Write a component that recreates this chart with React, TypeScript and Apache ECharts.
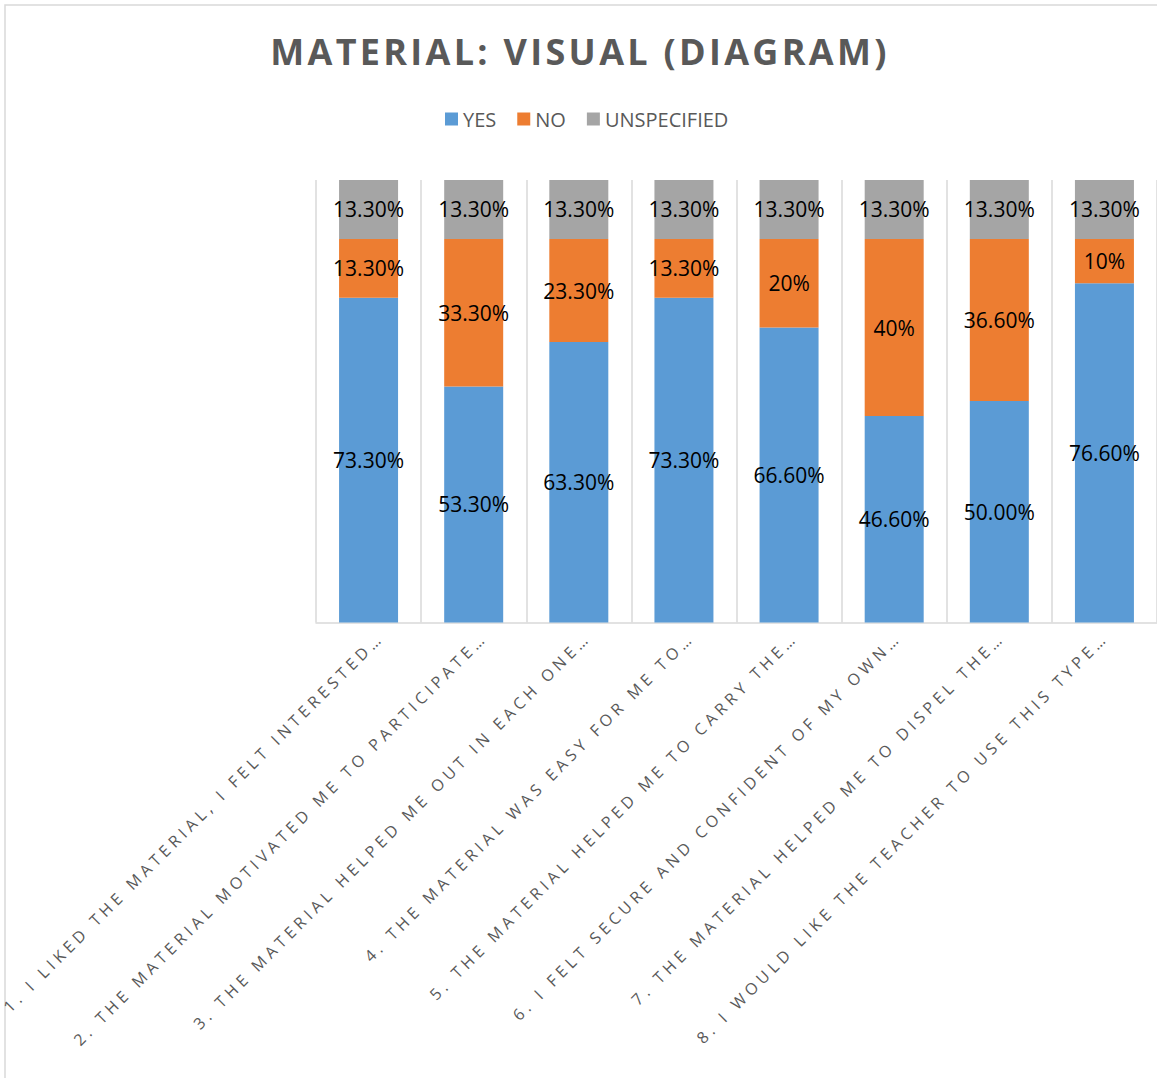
import React, { useEffect, useRef } from "react";
import * as echarts from "echarts";

const titleText = "MATERIAL: VISUAL (DIAGRAM)";
const categories = [
  "1. I LIKED THE MATERIAL, I FELT INTERESTED…",
  "2. THE MATERIAL MOTIVATED ME TO PARTICIPATE…",
  "3. THE MATERIAL HELPED ME OUT IN EACH ONE…",
  "4. THE MATERIAL WAS EASY FOR ME TO…",
  "5. THE MATERIAL HELPED ME TO CARRY THE…",
  "6. I FELT SECURE AND CONFIDENT OF MY OWN…",
  "7. THE MATERIAL HELPED ME TO DISPEL THE…",
  "8. I WOULD LIKE THE TEACHER TO USE THIS TYPE…",
];
const seriesNames = ["YES", "NO", "UNSPECIFIED"];
const yesValues = [73.3, 53.3, 63.3, 73.3, 66.6, 46.6, 50.0, 76.6];
const noValues = [13.3, 33.3, 23.3, 13.3, 20, 40, 36.6, 10];
const unspecifiedValues = [13.3, 13.3, 13.3, 13.3, 13.3, 13.3, 13.3, 13.3];
const yesLabels = ["73.30%", "53.30%", "63.30%", "73.30%", "66.60%", "46.60%", "50.00%", "76.60%"];
const noLabels = ["13.30%", "33.30%", "23.30%", "13.30%", "20%", "40%", "36.60%", "10%"];
const unspecifiedLabels = ["13.30%", "13.30%", "13.30%", "13.30%", "13.30%", "13.30%", "13.30%", "13.30%"];
const colors = ["#5b9bd5", "#ed7d31", "#a5a5a5"];

export default function App() {
  const ref = useRef<HTMLDivElement>(null);
  useEffect(() => {
    if (!ref.current) return;
    const chart = echarts.init(ref.current, undefined, { renderer: "svg" });
    const valueSets = [yesValues, noValues, unspecifiedValues];
    const labelSets = [yesLabels, noLabels, unspecifiedLabels];
    const gridBox = { top: 180, width: 843, height: 442.5 };
    chart.setOption({
      animation: false,
      color: colors,
      graphic: [
        {
          type: "rect",
          shape: { x: 5, y: 5, width: 1175, height: 1095 },
          style: { fill: "none", stroke: "#d9d9d9", lineWidth: 1.5 },
          silent: true,
        },
        {
          type: "text",
          x: 580,
          y: 51,
          style: {
            text: titleText,
            fontFamily: "'Open Sans'",
            fontWeight: "bold",
            fontSize: 36,
            fill: "#595959",
            textAlign: "center",
            textVerticalAlign: "middle",
          },
        },
      ],
      legend: {
        data: seriesNames,
        left: 440,
        top: 104,
        icon: "rect",
        itemWidth: 13,
        itemHeight: 13,
        itemGap: 21,
        textStyle: { fontFamily: "'Open Sans'", fontSize: 20, color: "#595959" },
      },
      grid: [
        { left: 316, ...gridBox },
        { left: 329, ...gridBox },
      ],
      xAxis: [
        {
          type: "category",
          gridIndex: 0,
          data: categories,
          axisLine: { show: true, lineStyle: { color: "#d9d9d9", width: 1.5 } },
          axisTick: { show: false },
          axisLabel: { show: false },
          splitLine: { show: true, interval: 0, lineStyle: { color: "#d9d9d9", width: 1.5 } },
        },
        {
          type: "category",
          gridIndex: 1,
          data: categories,
          axisLine: { show: false },
          axisTick: { show: false },
          splitLine: { show: false },
          axisLabel: {
            show: true,
            interval: 0,
            rotate: 45,
            margin: 12,
            fontFamily: "'Open Sans'",
            fontSize: 16,
            color: "#595959",
          },
        },
      ],
      yAxis: [
        { type: "value", gridIndex: 0, min: 0, max: 99.9, show: false, splitLine: { show: false } },
        { type: "value", gridIndex: 1, min: 0, max: 99.9, show: false, splitLine: { show: false } },
      ],
      series: seriesNames.map((name, i) => ({
        name,
        type: "bar",
        stack: "total",
        xAxisIndex: 0,
        yAxisIndex: 0,
        barWidth: 59,
        data: valueSets[i],
        itemStyle: { color: colors[i] },
        label: {
          show: true,
          position: "inside",
          formatter: (p: any) => labelSets[i][p.dataIndex],
          fontFamily: "'Open Sans'",
          fontSize: 21,
          color: "#000000",
        },
      })),
    });
    return () => chart.dispose();
  }, []);
  return (
    <div style={{ position: "fixed", left: 0, top: 0, width: 1157, height: 1078, overflow: "hidden", background: "#fff" }}>
      <style>{`text[style*="16px"]{letter-spacing:4.4px;} text[style*="36px"]{letter-spacing:3.3px;}`}</style>
      <div ref={ref} style={{ width: 1157, height: 1078 }} />
    </div>
  );
}
